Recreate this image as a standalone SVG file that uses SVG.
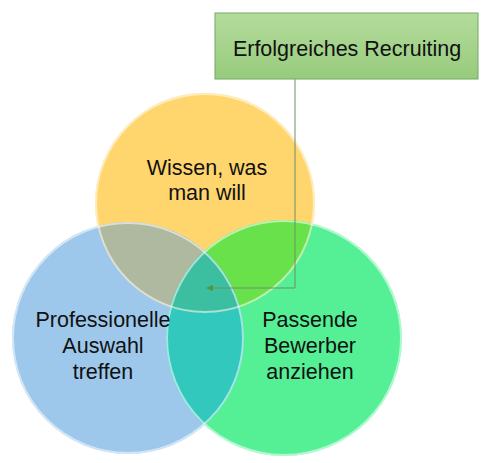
<svg xmlns="http://www.w3.org/2000/svg" width="492" height="463" viewBox="0 0 492 463">
<style>
.t{font-family:"Liberation Sans",Arial,sans-serif;font-size:21.5px;fill:#111111;text-anchor:middle}
.rim{fill:none;stroke:#ffffff;stroke-opacity:0.55;stroke-width:2}
</style>
<defs>
<clipPath id="cY"><circle cx="205" cy="203" r="110"/></clipPath>
<clipPath id="cB"><circle cx="128" cy="338" r="116"/></clipPath>
<clipPath id="cG"><circle cx="284" cy="338" r="118"/></clipPath>
<linearGradient id="gBox" x1="0" y1="0" x2="0" y2="1">
<stop offset="0" stop-color="#b4dc9c"/><stop offset="1" stop-color="#97cb7c"/>
</linearGradient>
<marker id="arr" viewBox="0 0 10 10" refX="9" refY="5" markerWidth="7" markerHeight="7" orient="auto">
<path d="M0,0 L10,5 L0,10 z" fill="#4a9a3a"/>
</marker>
</defs>
<rect width="492" height="463" fill="#ffffff"/>
<g id="yellow">
<circle cx="205" cy="203" r="110" fill="#ffd66e"/>
</g>
<g id="blue">
<circle cx="128" cy="338" r="116" fill="#9dc8eb"/>
</g>
<g id="green">
<circle cx="284" cy="338" r="118" fill="#55f096"/>
</g>
<g id="overlaps">
<g clip-path="url(#cY)"><circle cx="128" cy="338" r="116" fill="#afb9a0"/></g>
<g clip-path="url(#cY)"><circle cx="284" cy="338" r="118" fill="#69e14b"/></g>
<g clip-path="url(#cB)"><circle cx="284" cy="338" r="118" fill="#32c8be"/></g>
<g clip-path="url(#cB)"><g clip-path="url(#cY)"><circle cx="284" cy="338" r="118" fill="#3cbea0"/></g></g>
</g>
<g id="rims">
<circle class="rim" cx="205" cy="203" r="109"/>
<circle class="rim" cx="128" cy="338" r="115"/>
<circle class="rim" cx="284" cy="338" r="117"/>
</g>
<g id="connectors">
<polyline points="295,79 295,288 207,288" fill="none" stroke="#6f8f66" stroke-width="1" marker-end="url(#arr)"/>
</g>
<g id="box">
<rect x="215" y="13" width="263" height="66" fill="url(#gBox)" stroke="#74a862" stroke-width="1"/>
<text class="t" x="347" y="56">Erfolgreiches Recruiting</text>
</g>
<g id="label-yellow">
<text class="t" x="207" y="175">Wissen, was</text>
<text class="t" x="207" y="200">man will</text>
</g>
<g id="label-blue">
<text class="t" x="103" y="327">Professionelle</text>
<text class="t" x="103" y="353">Auswahl</text>
<text class="t" x="103" y="379">treffen</text>
</g>
<g id="label-green">
<text class="t" x="310" y="327">Passende</text>
<text class="t" x="310" y="353">Bewerber</text>
<text class="t" x="310" y="379">anziehen</text>
</g>
</svg>
